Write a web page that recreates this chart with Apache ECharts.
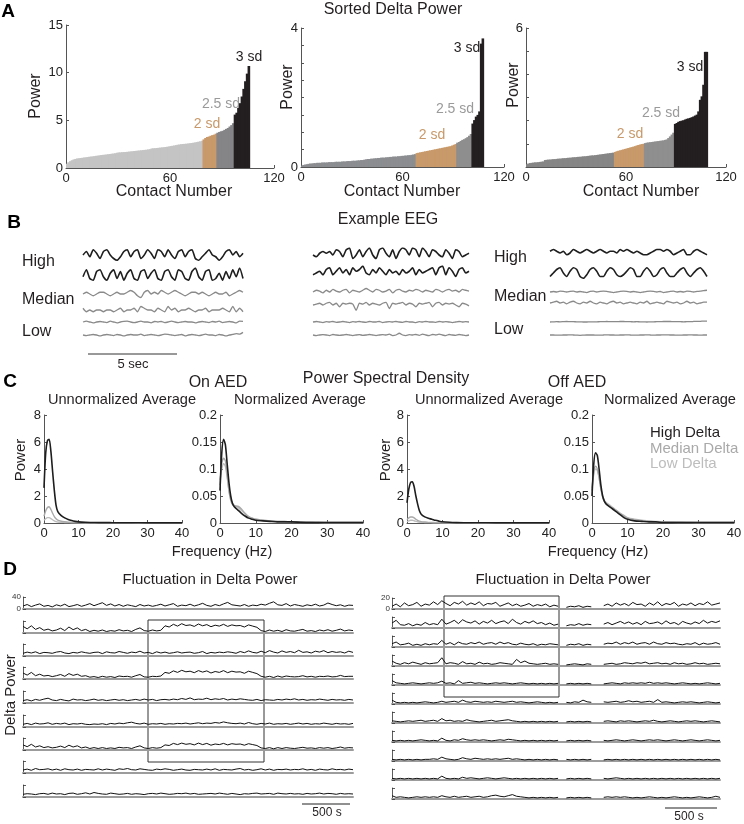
<!DOCTYPE html>
<html><head><meta charset="utf-8">
<script src="https://cdn.jsdelivr.net/npm/echarts@6/dist/echarts.min.js"></script>
<style>html,body{margin:0;padding:0;background:#fff}#c{width:744px;height:824px}</style>
</head><body><div id="c"></div><script>
const FONT = 'Liberation Sans';
const INK = '#231f20';
const TAN = '#c8996a';

// ---------------- Panel A data: sorted delta power ----------------
const contactAxisMax = 120;
const A1_power = [0.45,0.6,0.72,0.82,0.9,0.95,1.0,1.02,1.05,1.07,1.1,1.12,1.15,1.18,1.2,1.22,1.25,1.28,1.3,1.33,1.36,1.38,1.4,1.42,1.45,1.47,1.5,1.52,1.55,1.6,1.63,1.64,1.66,1.67,1.68,1.7,1.72,1.74,1.76,1.78,1.8,1.82,1.84,1.86,1.88,1.9,1.92,1.95,1.98,2.05,2.07,2.08,2.1,2.12,2.14,2.16,2.18,2.2,2.23,2.26,2.3,2.33,2.36,2.4,2.44,2.47,2.5,2.52,2.53,2.55,2.57,2.6,2.62,2.65,2.68,2.72,2.76,2.8,2.86,
  3.0,3.15,3.25,3.3,3.38,3.45,3.5,3.6,
  3.7,3.78,3.85,3.9,4.0,4.1,4.2,4.35,4.5,4.7,
  5.6,5.8,6.3,6.8,7.5,8.3,9.1,9.9,10.7];
const A1_groupSizes = [79, 8, 10, 9];
const A2_power = [0.04,0.06,0.07,0.08,0.09,0.1,0.1,0.11,0.11,0.12,0.12,0.12,0.13,0.13,0.13,0.13,0.14,0.14,0.14,0.14,0.15,0.15,0.15,0.15,0.16,0.16,0.16,0.17,0.17,0.17,0.18,0.18,0.18,0.19,0.19,0.2,0.2,0.21,0.22,0.23,0.23,0.24,0.24,0.25,0.25,0.26,0.26,0.27,0.27,0.27,0.28,0.28,0.29,0.29,0.3,0.3,0.3,0.31,0.31,0.32,0.32,0.33,0.33,0.34,0.34,0.35,0.36,0.37,
  0.4,0.41,0.42,0.43,0.44,0.45,0.46,0.47,0.48,0.49,0.5,0.51,0.52,0.53,0.54,0.55,0.56,0.57,0.58,0.59,0.6,0.62,0.64,0.66,
  0.7,0.72,0.75,0.78,0.8,0.83,0.86,0.9,0.95,
  1.25,1.35,1.45,1.5,1.6,3.55,3.7];
const A2_groupSizes = [68, 24, 9, 7];
const A3_power = [0.12,0.15,0.17,0.18,0.19,0.2,0.2,0.21,0.22,0.23,0.24,0.3,0.31,0.32,0.32,0.33,0.34,0.34,0.35,0.36,0.36,0.37,0.38,0.38,0.39,0.4,0.4,0.41,0.42,0.42,0.43,0.44,0.44,0.45,0.46,0.46,0.47,0.48,0.49,0.5,0.5,0.51,0.52,0.53,0.54,0.55,0.56,0.57,0.58,0.59,0.6,0.61,0.62,
  0.65,0.68,0.7,0.72,0.74,0.76,0.78,0.8,0.82,0.84,0.86,0.88,0.9,0.93,0.95,0.97,0.99,1.0,
  1.03,1.05,1.06,1.07,1.08,1.09,1.1,1.11,1.12,1.13,1.14,1.15,1.17,1.19,1.25,1.32,1.4,1.48,
  1.86,1.9,1.95,1.98,2.0,2.02,2.05,2.08,2.1,2.12,2.15,2.18,2.22,2.26,2.4,2.9,3.05,3.55,4.97,4.97];
const A3_groupSizes = [53, 18, 18, 20];
const A_sdLabels = ['2 sd', '2.5 sd', '3 sd'];

// ---------------- Panel B data: example EEG (arbitrary units) ----------------
const B_left = [
  [0,2,-1,3,1,-2,2,3,0,-2,-3,-1,2,3,-1,2,3,-2,0,3,1,-2,3,2,-1,3,0,-2,2,3,-1,2,3,-2,-3,-1,1,3,0,-1,-3,-1,2,3,0,2,-1,1],
  [-1,3,-2,-3,2,3,-1,-3,1,3,-2,2,-3,1,3,-2,-3,2,3,-2,1,3,-2,-3,2,3,-1,-3,3,2,-2,-3,2,4,-1,-3,2,3,-3,-2,1,-3,2,-2,3,-1,4,-2],
  [0,1,0,-1,0,1,1,0,-1,0,1,0,0,1,2,1,-1,-2,1,2,0,1,0,2,1,0,1,2,1,0,-1,0,1,1,0,1,0,-1,0,1,0,0,1,-1,0,1,2,1],
  [1,-1,0,-1,0,0,-1,0,0,-1,0,1,-1,0,0,1,-1,2,1,0,0,-1,1,0,-1,2,0,1,-1,0,0,1,0,-1,0,0,1,-1,0,0,0,1,0,-1,2,-1,1,-1],
  [0,0.5,0,-0.5,0,0.3,0,-0.3,0.5,0,-0.5,0,0.3,0.5,0,-0.3,0,0.5,0,0,-0.5,0.3,0,0.3,-0.3,0,0.5,0,-0.3,0,0.3,0,0,-0.5,0,0.3,0,-0.3,0.3,0,0.5,-0.3,0,0.3,0,-0.5,0.5,0.3],
  [0,-0.3,0,0.3,0,-0.5,0,0.3,0,-0.3,0.3,0,-0.5,0,0.3,0,0,0.5,-0.3,0,0.3,0,-0.3,0,0.5,0.3,0,-0.3,0,0.3,-0.5,0,0.3,0,-0.3,0,0.5,0,0,-0.3,0.3,0,-0.5,0,0.3,0.8,0.5,1.5]
];
const B_middle = [
  [0,-1,1,2,1,2,0,3,2,-1,3,4,-2,0,3,-1,2,4,0,-2,3,4,1,-1,3,-2,2,4,3,0,4,3,-1,4,2,-1,3,2,0,-1,3,1,-2,3,2,-1,0,1],
  [-1,0,1,-1,2,3,-1,1,3,0,2,-1,3,1,2,4,0,-1,2,0,3,1,-1,2,0,1,-1,2,0,1,3,-1,2,0,1,2,3,-1,3,4,-1,3,1,-2,2,3,0,1],
  [0,1,0.5,-0.5,1,0,1.5,0.5,0,1,1.5,-0.5,1,0.5,0,1,2,1,0,1.5,1,0,0.5,1.5,-0.5,1,1.5,0.5,0,1,0.5,1.5,1,0,1,0.5,0,1.5,1,0,1,1.5,0.5,1,0,1.5,1,0.5],
  [0,0.5,1,0,1,1.5,0,1,-1,1,0.5,1,0.5,-3,1,0.5,1.5,0,1,0.5,0,1,1.5,-2,1,0.5,1,1.5,0,1,0.5,-1,1,0.5,1,1.5,-1,1,1.5,0,1,0.5,1,0,-1,1,0.5,-0.5],
  [0,0.3,0,-0.3,0.2,0,0.3,-0.2,0,0.3,0,-0.3,0.2,0,0.3,0,-0.2,0.3,0,0,0.3,-0.3,0,0.2,0,0.3,0,-0.2,0.3,0,0,-0.3,0.2,0,0.3,0,0,-0.2,0.3,0,0.2,0,-0.3,0,0.3,0,0.2,0],
  [0,-0.3,0,0.2,0,-0.3,0.3,0,-0.2,0,0.3,0,-0.3,0,0.2,-0.2,0,0.3,0,-0.3,0,0.2,0,0.5,-0.3,0,1,0,-0.3,0.2,0,0.3,-0.2,0.5,0,-0.3,0.3,0,0.5,0,-0.3,0.3,0,-0.2,0.3,0,-0.3,0]
];
const B_right = [
  [1,2,1,0,1,-1,0,2,1,0,1,2,1,0,1,2,1,0,1,1,0,2,1,2,1,0,1,0,-1,-1,0,1,2,2,1,2,1,-1,0,1,2,-1,-1,1,2,1,0,-1],
  [-2,0,2,3,0,-2,1,3,2,-2,-3,-1,2,3,1,-2,-2,1,3,2,-1,-2,-1,1,3,2,-2,-2,1,3,1,-2,-1,2,3,0,-2,-2,0,2,3,0,-2,0,2,3,1,-2],
  [0,0.3,0,0.5,0.3,0,0.3,0.5,0,0.3,0,-0.3,0.3,0.5,0,0.3,0.5,0.3,0,-0.3,0,0.3,0.5,0.3,0,0.3,0,-0.3,0,0.3,0.5,0.3,0,0.3,-0.3,0,0.3,0.5,0,0.3,0,0.5,0.3,0,0.3,0.5,0.8,1],
  [0,0.5,1,0,0.5,-0.5,0.5,1,0,-0.5,0.5,0,1,0,-0.5,0.5,0,-0.5,0.5,1,0,0.5,-0.5,0,0.5,0,-0.5,0.5,0,1,-0.5,0,0.5,0,-0.5,1,0.5,0,0.5,-0.5,0,1,0,0.5,-0.5,0,0.5,0.5],
  [0,0.1,0.2,0.1,0.2,0.3,0.2,0.2,0.1,0.1,0,0,0.1,0.1,0.1,0.2,0.2,0.3,0.2,0.2,0.2,0.3,0.3,0.2,0.2,0.1,0.2,0.1,0.1,0,0.1,0.1,0.2,0.2,0.3,0.3,0.3,0.2,0.2,0.2,0.1,0.2,0.2,0.3,0.4,0.4,0.5,0.5],
  [0,0,-0.1,-0.1,0,0,0.1,0,-0.1,-0.2,-0.1,0,0,0,-0.1,-0.1,0,0.1,0,0,-0.1,0,0,0.1,0,-0.1,-0.1,0,0,0.1,0,-0.1,0,0,0.1,0.1,0,0,-0.1,-0.1,0,0,0.1,0,0,-0.1,0,0]
];
const B_rowLabels = ['High', 'Median', 'Low'];

// ---------------- Panel C data: power spectral density ----------------
const psdFreq = [0,0.5,1,1.5,2,2.5,3,3.5,4,5,6,7,8,9,10,12,14,16,18,20,25,30,35,40];
const C_onUnnorm_high = [2.6,5.2,6.1,6.2,5.3,3.8,2.4,1.3,0.85,0.55,0.38,0.26,0.18,0.12,0.08,0.05,0.04,0.03,0.03,0.02,0.02,0.01,0.01,0.01];
const C_onUnnorm_median = [0.5,0.9,1.15,1.2,1.0,0.72,0.47,0.31,0.21,0.13,0.09,0.06,0.05,0.04,0.03,0.02,0.02,0.01,0.01,0.01,0.01,0.01,0.01,0.01];
const C_onUnnorm_low = [0.2,0.32,0.4,0.4,0.33,0.24,0.16,0.1,0.07,0.05,0.04,0.03,0.02,0.02,0.01,0.01,0.01,0.01,0.01,0.01,0.01,0,0,0];
const C_onNorm_high = [0.06,0.13,0.155,0.145,0.11,0.075,0.05,0.036,0.03,0.024,0.018,0.013,0.009,0.007,0.005,0.004,0.003,0.002,0.002,0.002,0.001,0.001,0.001,0.001];
const C_onNorm_median = [0.07,0.11,0.12,0.115,0.09,0.06,0.042,0.034,0.032,0.031,0.026,0.018,0.012,0.009,0.007,0.005,0.004,0.003,0.003,0.002,0.002,0.001,0.001,0.001];
const C_onNorm_low = [0.08,0.1,0.11,0.105,0.085,0.06,0.045,0.037,0.033,0.029,0.023,0.017,0.012,0.009,0.007,0.005,0.004,0.003,0.003,0.002,0.002,0.001,0.001,0.001];
const C_offUnnorm_high = [1.5,2.5,3.0,3.05,2.7,2.0,1.4,0.9,0.65,0.45,0.35,0.28,0.2,0.14,0.09,0.05,0.03,0.02,0.02,0.02,0.01,0.01,0.01,0.01];
const C_offUnnorm_median = [0.25,0.38,0.45,0.45,0.38,0.28,0.2,0.14,0.1,0.07,0.05,0.04,0.03,0.025,0.02,0.015,0.01,0.01,0.01,0.01,0.01,0.01,0,0];
const C_offUnnorm_low = [0.1,0.16,0.2,0.2,0.17,0.13,0.09,0.06,0.05,0.04,0.03,0.025,0.02,0.015,0.01,0.01,0.01,0.01,0.01,0,0,0,0,0];
const C_offNorm_high = [0.05,0.11,0.13,0.125,0.1,0.07,0.05,0.04,0.035,0.03,0.025,0.02,0.015,0.01,0.007,0.004,0.003,0.002,0.002,0.001,0.001,0.001,0.001,0.001];
const C_offNorm_median = [0.06,0.095,0.105,0.1,0.085,0.063,0.048,0.04,0.036,0.031,0.027,0.022,0.017,0.013,0.009,0.006,0.004,0.003,0.002,0.002,0.001,0.001,0.001,0.001];
const C_offNorm_low = [0.065,0.09,0.1,0.097,0.083,0.064,0.05,0.042,0.038,0.033,0.028,0.023,0.018,0.014,0.01,0.007,0.005,0.004,0.003,0.002,0.002,0.001,0.001,0.001];
const C_legend = ['High Delta', 'Median Delta', 'Low Delta'];

// ---------------- Panel D data: fluctuation in delta power ----------------
const D_left = [
  [10,15,8,13,17,9,12,7,14,10,16,8,11,15,9,13,18,11,16,21,12,17,10,15,9,14,11,8,15,10,13,9,12,16,10,14,18,9,13,11,16,10,14,19,12,9,15,11,17,22,14,12,10,15,9,13,11,16,13,19,24,14,12,18,10,15,12,9,14,11,16,10,13,20,15,11,14,9,13,12],
  [22,14,24,12,18,9,13,7,10,16,8,20,11,17,8,12,5,9,6,10,5,8,6,11,7,9,5,12,17,8,6,10,7,9,
   24,20,29,23,31,25,27,22,30,24,28,21,26,23,29,22,27,24,25,20,27,23,19,
   8,5,10,6,9,5,11,7,6,9,12,6,8,5,10,7,11,6,9,13,7,10,8],
  [9,13,10,14,8,12,11,9,13,15,10,8,12,10,14,11,9,12,13,8,14,11,10,15,12,9,13,11,16,10,12,8,14,10,13,9,11,14,10,12,13,9,11,15,8,12,10,13,11,14,12,9,15,11,17,12,10,16,11,18,13,10,17,12,15,11,19,12,14,10,16,13,18,11,15,12,14,10,16,12],
  [20,13,22,11,16,10,12,8,11,15,9,18,12,16,9,11,6,8,5,9,6,8,5,10,8,9,6,11,15,7,6,9,8,10,
   22,19,27,22,29,24,26,21,28,23,27,20,25,22,28,21,26,23,24,19,26,22,18,
   9,6,9,5,10,6,10,8,7,8,11,7,9,6,9,8,10,7,8,12,8,9,9],
  [8,11,7,12,9,13,16,10,8,12,9,7,13,10,11,8,10,13,9,11,8,10,12,9,11,8,10,12,9,13,10,12,8,11,12,10,13,11,15,12,17,11,13,12,16,11,14,12,15,10,13,11,14,12,10,9,12,8,11,10,9,12,10,13,11,14,10,12,9,11,10,13,11,9,12,10,11,9,12,10],
  [9,12,8,13,10,11,14,9,12,10,13,8,11,10,12,9,8,10,9,11,8,12,10,13,11,14,16,12,10,13,9,11,10,12,9,11,10,12,11,13,10,12,14,11,13,12,15,13,17,14,12,11,13,10,15,11,9,12,10,13,9,11,10,12,9,11,13,10,12,9,11,10,13,11,9,12,10,11,9,12],
  [17,11,19,10,14,8,11,7,9,13,8,16,10,14,7,10,5,8,5,8,5,7,5,9,7,8,5,10,14,7,5,8,6,8,
   17,15,22,18,23,19,21,17,23,18,22,16,20,18,22,17,21,19,20,16,21,18,15,
   7,5,8,4,8,5,8,6,5,7,9,6,7,5,8,6,8,5,7,10,6,8,7],
  [10,13,9,15,11,12,14,10,13,9,14,11,10,13,9,12,11,10,14,10,13,11,9,14,12,15,11,10,14,12,10,9,13,11,14,12,9,11,13,10,9,12,11,10,13,10,14,9,12,11,10,13,15,10,12,9,11,14,10,13,9,12,11,13,10,12,11,14,10,12,9,13,11,10,14,11,12,10,13,11],
  [9,11,10,8,11,12,9,13,10,11,8,12,13,9,11,14,10,15,12,10,9,13,11,9,10,12,9,11,10,8,11,12,10,13,11,9,10,12,11,13,10,12,9,10,11,12,10,13,11,9,12,10,8,11,10,12,13,10,11,12,9,13,11,10,12,10,11,9,12,10,11,13,10,12,11,9,12,10,11,10]
];
const D_right = [
  [5,9,4,11,6,8,12,5,9,7,13,8,15,10,6,12,9,14,7,11,8,13,6,10,9,12,5,8,11,6,9,5,7,10,5,8,6,9,4,7,5,null,3,5,4,6,3,5,4,null,null,6,9,5,11,7,10,6,12,8,9,5,11,7,13,6,10,8,12,5,9,7,11,6,10,8,13,7,9,11],
  [9,14,6,5,8,4,7,5,10,6,8,6,16,7,10,14,8,15,11,9,13,7,12,9,14,8,11,13,8,16,10,7,12,9,13,8,10,6,9,5,7,null,4,6,5,8,5,7,6,null,null,7,10,6,9,12,8,11,7,10,6,12,8,9,11,7,13,8,10,6,12,9,7,11,8,14,9,12,10,13],
  [6,9,4,5,7,3,5,3,6,4,6,5,12,5,8,4,9,6,5,8,6,9,5,7,8,5,9,6,8,5,4,7,5,4,6,3,5,4,6,5,4,null,3,5,4,6,3,5,4,null,null,5,7,6,9,5,8,6,9,5,7,8,5,9,6,5,8,6,7,5,4,6,5,8,4,7,5,6,8,5],
  [9,5,3,6,4,7,5,3,6,4,5,6,15,4,6,5,3,8,4,5,3,7,4,5,3,4,6,5,4,3,12,6,9,5,4,3,4,5,3,4,3,null,2,3,4,3,2,4,3,null,null,3,4,5,3,4,6,5,4,6,5,7,4,5,6,4,5,3,6,4,5,3,4,6,4,5,3,4,5,4],
  [8,4,3,2,3,4,3,2,3,4,3,4,7,3,4,2,8,3,4,5,3,4,3,2,3,4,3,4,3,2,3,4,3,2,3,2,3,2,3,2,3,null,2,3,2,3,2,3,2,null,null,2,3,4,3,2,4,3,4,3,4,3,5,3,4,3,4,3,2,3,4,3,2,3,2,3,4,3,2,3],
  [7,3,2,3,2,3,2,3,4,3,2,3,5,3,4,5,3,7,4,3,5,4,3,4,3,5,4,3,4,5,3,4,3,2,3,4,3,2,3,2,3,null,3,2,4,3,7,4,3,null,null,4,3,4,5,3,4,6,4,5,3,4,5,3,8,3,4,3,2,3,4,3,4,3,2,3,4,3,2,3],
  [4,3,2,3,4,3,4,5,3,4,5,3,8,4,5,3,4,3,6,4,3,2,3,4,5,3,4,5,6,4,3,2,3,2,3,2,3,2,3,2,3,null,2,3,2,3,2,3,2,null,null,3,4,3,2,4,3,4,3,2,3,4,3,5,3,2,3,4,3,2,3,4,3,4,3,2,3,4,3,2],
  [3,2,3,2,3,2,3,4,3,2,3,2,7,3,2,4,3,6,4,3,4,3,4,3,2,3,4,3,5,4,3,2,3,2,3,2,3,2,3,2,3,null,2,3,2,3,2,3,2,null,null,3,2,3,4,3,2,3,4,3,2,3,4,3,4,3,2,3,4,3,2,3,4,3,2,3,4,3,2,3],
  [3,2,3,2,3,2,3,2,3,3,4,3,7,4,3,2,3,6,4,3,5,4,3,4,3,4,3,4,5,3,4,3,2,3,2,3,2,3,2,3,2,null,3,2,3,2,3,2,3,null,null,2,3,2,3,2,3,2,3,2,3,2,3,2,3,2,3,2,3,2,3,2,3,2,3,2,3,2,3,2],
  [3,2,3,2,3,2,3,2,3,2,3,2,7,3,2,3,2,5,3,4,3,2,3,4,3,2,3,4,3,2,3,2,3,2,3,2,3,2,3,2,3,null,2,3,2,3,2,3,2,null,null,3,2,3,4,3,2,3,2,3,2,3,2,3,2,3,2,3,2,3,2,3,2,3,2,3,2,3,2,3],
  [6,3,4,3,2,3,4,3,4,3,4,3,6,4,3,5,3,4,5,3,4,5,3,4,6,7,5,4,6,8,5,4,3,2,3,2,3,2,3,2,3,null,2,3,2,3,2,3,2,null,null,3,4,3,4,3,4,3,2,3,2,3,4,3,2,3,2,3,4,3,2,3,2,3,4,3,2,3,5,3]
];
const D_leftMax = 40, D_rightMax = 20;

// ---------------- builders ----------------
const grids = [], xAxes = [], yAxes = [], series = [], graphics = [];
function addGrid(left, top, width, height) {
  grids.push({left, top, width, height, containLabel: false, outerBoundsMode: 'none'});
  return grids.length - 1;
}
function txt(text, x, y, size, opts) {
  opts = opts || {};
  graphics.push({
    type: 'text', x, y, rotation: opts.rot || 0, silent: true,
    style: {text, x: 0, y: 0, fill: opts.color || INK, fontSize: size, fontFamily: FONT,
      fontWeight: opts.bold ? 'bold' : 'normal',
      align: opts.align || 'center', textAlign: opts.align || 'center',
      verticalAlign: 'middle', textVerticalAlign: 'middle'}
  });
}
function hline(x1, x2, y, color, w) {
  graphics.push({type: 'line', silent: true, shape: {x1, y1: y, x2, y2: y}, style: {stroke: color || INK, lineWidth: w || 1}});
}
function box(x, y, w, h) {
  graphics.push({type: 'rect', silent: true, shape: {x, y, width: w, height: h}, style: {fill: 'none', stroke: '#333', lineWidth: 1}});
}
const axisCol = '#555';
function groupOf(i, sizes) { let s = 0; for (let g = 0; g < sizes.length; g++) { s += sizes[g]; if (i < s) return g; } return sizes.length - 1; }

// ---------------- Panel A ----------------
const cats120 = Array.from({length: contactAxisMax}, (_, i) => i);
function panelA(values, sizes, colors, left, top, width, height, ymax, yint, showLabel) {
  const g = addGrid(left, top, width, height);
  const xc = xAxes.push({type: 'category', gridIndex: g, data: cats120, show: false, position: 'top', boundaryGap: true}) - 1;
  xAxes.push({type: 'value', gridIndex: g, position: 'bottom', min: 0, max: contactAxisMax, interval: 60,
    axisLine: {show: true, onZero: false, lineStyle: {color: axisCol, width: 1}},
    axisTick: {show: true, inside: true, length: 3, lineStyle: {color: axisCol}},
    axisLabel: {fontSize: 13, color: '#222', margin: 4, fontFamily: FONT}, splitLine: {show: false}});
  const y = yAxes.push({type: 'value', gridIndex: g, min: 0, max: ymax, interval: yint,
    axisLine: {show: true, lineStyle: {color: axisCol, width: 1}},
    axisTick: {show: true, inside: true, length: 3, lineStyle: {color: axisCol}},
    axisLabel: {fontSize: 13, color: '#222', margin: 3, fontFamily: FONT, formatter: v => showLabel(v) ? String(v) : ''},
    splitLine: {show: false}}) - 1;
  const bw = width / contactAxisMax + 0.9;   // slight overlap so adjacent bars leave no seams
  colors.forEach((col, k) => {
    series.push({type: 'bar', xAxisIndex: xc, yAxisIndex: y, silent: true, animation: false, z: 2,
      data: values.map((v, i) => groupOf(i, sizes) === k ? v : null),
      barWidth: bw, barGap: '-100%',
      itemStyle: {color: col}});
  });
}
panelA(A1_power, A1_groupSizes, ['#c4c4c4', TAN, '#858588', INK], 66, 25, 208, 143, 15, 5, v => true);
panelA(A2_power, A2_groupSizes, ['#8b8d90', TAN, '#8e8e8e', INK], 301, 28, 203, 139, 4, 0.5, v => v === 0 || v === 4);
panelA(A3_power, A3_groupSizes, ['#868686', TAN, '#8f8f8f', INK], 526, 28, 200, 139, 6, 1, v => v === 6);

txt('A', 8, 12, 19, {bold: true, color: '#000'});
txt('Sorted Delta Power', 393, 10, 16);
[[36, 96], [288, 87], [514, 85]].forEach(p => txt('Power', p[0], p[1], 16, {rot: Math.PI / 2}));
[174, 402, 641].forEach(x => txt('Contact Number', x, 192, 16));
const sdColors = [TAN, '#9a9a9a', INK];
const sdPos = [
  [[207, 124], [221, 104], [249, 57]],
  [[432, 135], [455, 109], [467, 48]],
  [[630, 134], [661, 113], [690, 67]]
];
sdPos.forEach(ch => ch.forEach((p, k) => txt(A_sdLabels[k], p[0], p[1], 14, {color: sdColors[k]})));

// ---------------- Panel B ----------------
function trace(values, left, width, cy, color, lw, ymin, ymax, h, smooth) {
  const g = addGrid(left, cy - h / 2, width, h);
  const xi = xAxes.push({type: 'category', gridIndex: g, show: false, boundaryGap: false, data: values.map((_, i) => i)}) - 1;
  const yi = yAxes.push({type: 'value', gridIndex: g, show: false, min: ymin, max: ymax, splitLine: {show: false}}) - 1;
  series.push({type: 'line', xAxisIndex: xi, yAxisIndex: yi, data: values, showSymbol: false, smooth: smooth, silent: true, animation: false,
    lineStyle: {color, width: lw}});
  return g;
}
const B_cols = [
  {data: B_left, left: 83, width: 160, cy: [255, 275, 294, 310, 322, 335]},
  {data: B_middle, left: 313, width: 156, cy: [255, 273, 292, 305, 322, 335]},
  {data: B_right, left: 550, width: 157, cy: [253, 273, 292, 303, 322, 335]}
];
B_cols.forEach(col => col.data.forEach((vals, k) => {
  const black = k < 2;
  trace(vals, col.left, col.width, col.cy[k], black ? '#1e1e1e' : '#8a8a8a', black ? 1.6 : 1.3, -4, 4, 14, 0.2);
}));
txt('B', 14, 223, 19, {bold: true, color: '#000'});
txt('Example EEG', 388, 220, 16);
[[262, 300, 332], [258, 297, 330]].forEach((ys, j) => {
  const x = j === 0 ? 22 : 494;
  B_rowLabels.forEach((t, k) => txt(t, x, ys[k], 16, {align: 'left'}));
});
hline(88, 177, 354, '#333', 1);
txt('5 sec', 133, 364, 13);

// ---------------- Panel C ----------------
function psdPanel(left, width, ymax, yint, fmt, curves) {
  const g = addGrid(left, 415, width, 108);
  const xi = xAxes.push({type: 'value', gridIndex: g, min: 0, max: 40, interval: 10,
    axisLine: {show: true, onZero: false, lineStyle: {color: axisCol}},
    axisTick: {show: true, inside: true, length: 3, lineStyle: {color: axisCol}},
    axisLabel: {fontSize: 13, color: '#222', margin: 4, fontFamily: FONT}, splitLine: {show: false}}) - 1;
  const yi = yAxes.push({type: 'value', gridIndex: g, min: 0, max: ymax, interval: yint,
    axisLine: {show: true, lineStyle: {color: axisCol}},
    axisTick: {show: true, inside: true, length: 3, lineStyle: {color: axisCol}},
    axisLabel: {fontSize: 13, color: '#222', margin: 3, fontFamily: FONT, formatter: fmt}, splitLine: {show: false}}) - 1;
  curves.forEach(c => series.push({type: 'line', xAxisIndex: xi, yAxisIndex: yi, showSymbol: false, smooth: 0.25, silent: true, animation: false,
    data: psdFreq.map((f, i) => [f, c.v[i]]), lineStyle: {color: c.color, width: c.w}}));
}
const curveStyle = (hi, me, lo) => [
  {v: lo, color: '#bdbdbd', w: 1.4},
  {v: me, color: '#a9a9a9', w: 1.4},
  {v: hi, color: '#1e1e1e', w: 1.6}
];
const fmtInt = v => String(v);
const fmtNorm = v => String(+v.toFixed(2));
psdPanel(44, 138, 8, 2, fmtInt, curveStyle(C_onUnnorm_high, C_onUnnorm_median, C_onUnnorm_low));
psdPanel(220, 143, 0.2, 0.05, fmtNorm, curveStyle(C_onNorm_high, C_onNorm_median, C_onNorm_low));
psdPanel(407, 142, 8, 2, fmtInt, curveStyle(C_offUnnorm_high, C_offUnnorm_median, C_offUnnorm_low));
psdPanel(592, 142, 0.2, 0.05, fmtNorm, curveStyle(C_offNorm_high, C_offNorm_median, C_offNorm_low));

txt('C', 10, 382, 19, {bold: true, color: '#000'});
txt('On AED', 218, 383, 16);
txt('Power Spectral Density', 386, 379, 16);
txt('Off AED', 577, 383, 16);
txt('Unnormalized Average', 122, 400, 14.6);
txt('Normalized Average', 300, 400, 14.6);
txt('Unnormalized Average', 489, 400, 14.6);
txt('Normalized Average', 670, 400, 14.6);
txt('Power', 21, 460, 15, {rot: Math.PI / 2});
txt('Power', 386, 460, 15, {rot: Math.PI / 2});
txt('Frequency (Hz)', 222, 552, 14.6);
txt('Frequency (Hz)', 598, 552, 14.6);
const legendColors = [INK, '#a9a9a9', '#bdbdbd'];
C_legend.forEach((t, k) => txt(t, 650, 433 + k * 15.5, 15, {align: 'left', color: legendColors[k]}));

// ---------------- Panel D ----------------
function dRow(values, left, width, base, h, ymax, labels) {
  const g = addGrid(left, base - h, width, h);
  const xi = xAxes.push({type: 'category', gridIndex: g, boundaryGap: false, data: values.map((_, i) => i),
    axisLine: {show: true, lineStyle: {color: '#9c9c9c', width: 2}}, axisTick: {show: false}, axisLabel: {show: false}}) - 1;
  const yi = yAxes.push({type: 'value', gridIndex: g, min: 0, max: ymax, interval: ymax,
    axisLine: {show: true, lineStyle: {color: '#333', width: 0.8}},
    axisTick: {show: true, inside: true, length: 3, lineStyle: {color: '#333', width: 0.8}},
    axisLabel: {show: labels, fontSize: 8, color: '#333', margin: 2, fontFamily: FONT}, splitLine: {show: false}}) - 1;
  series.push({type: 'line', xAxisIndex: xi, yAxisIndex: yi, data: values, showSymbol: false, silent: true, animation: false,
    lineStyle: {color: '#111', width: 1}});
}
D_left.forEach((vals, k) => dRow(vals, 23, 330, [609, 633, 656, 679, 703, 727, 750, 773, 797][k], 12, D_leftMax, k === 0));
D_right.forEach((vals, k) => dRow(vals, 392, 328, 609 + 19 * k, 11, D_rightMax, k === 0));
txt('D', 10, 570, 19, {bold: true, color: '#000'});
txt('Fluctuation in Delta Power', 210, 580, 15);
txt('Fluctuation in Delta Power', 563, 580, 15);
txt('Delta Power', 11, 695, 15, {rot: Math.PI / 2});
box(148, 620, 116, 142);
box(444, 596, 115, 101);
hline(302, 350, 804, '#222', 1.2);
txt('500 s', 327, 813, 12);
hline(665, 717, 808, '#222', 1.2);
txt('500 s', 689, 817, 12);

const chart = echarts.init(document.getElementById('c'), null, {renderer: 'canvas'});
chart.setOption({
  animation: false,
  backgroundColor: '#fff',
  textStyle: {fontFamily: FONT},
  grid: grids, xAxis: xAxes, yAxis: yAxes, series: series, graphic: graphics
});
</script></body></html>
